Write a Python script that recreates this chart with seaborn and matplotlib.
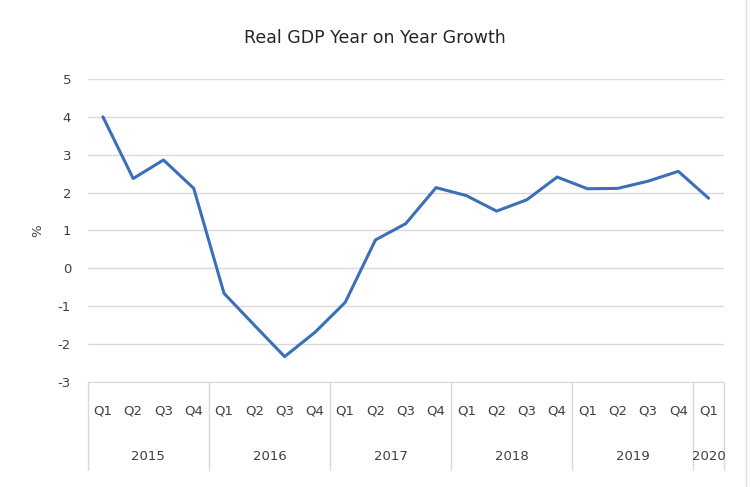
import pandas as pd
import matplotlib
matplotlib.use('Agg')
import matplotlib.pyplot as plt
import matplotlib.transforms as mtransforms
from matplotlib.lines import Line2D
import seaborn as sns

# Data
quarters = ['Q1', 'Q2', 'Q3', 'Q4'] * 5 + ['Q1']
years = ['2015', '2016', '2017', '2018', '2019', '2020']
year_counts = [4, 4, 4, 4, 4, 1]
growth = [4.0, 2.37, 2.86, 2.11,
          -0.66, -1.5, -2.33, -1.69,
          -0.9, 0.75, 1.18, 2.13,
          1.92, 1.51, 1.81, 2.41,
          2.1, 2.11, 2.3, 2.56,
          1.85]

df = pd.DataFrame({'pos': range(len(growth)), 'growth': growth})

sns.set_style('white')
plt.rcParams['font.family'] = ['DejaVu Sans']
plt.rcParams['axes.unicode_minus'] = False

fig = plt.figure(figsize=(7.5, 4.87), dpi=100)
ax = fig.add_axes([0.117, 0.2156, 0.848, 0.6224])

sns.lineplot(data=df, x='pos', y='growth', color='#3B70B8', linewidth=2.2, ax=ax)

ax.set_xlim(-0.5, len(growth) - 0.5)
ax.set_ylim(-3, 5)
ax.set_yticks(range(-3, 6))
ax.yaxis.grid(True, color='#D9D9D9', linewidth=1)
ax.set_axisbelow(True)
for s in ['top', 'right', 'left']:
    ax.spines[s].set_visible(False)
ax.spines['bottom'].set_color('#D9D9D9')

txt = '#404040'
ax.tick_params(axis='y', length=0, pad=12, labelsize=9.5, labelcolor=txt)
ax.set_xticks(df['pos'])
ax.set_xticklabels(quarters)
ax.tick_params(axis='x', length=0, pad=16, labelsize=9.5, labelcolor=txt)
ax.set_xlabel('')
ax.set_ylabel('%', fontsize=9.5, color=txt, labelpad=10)

# Year labels and separators for the second category level
trans = mtransforms.blended_transform_factory(ax.transData, ax.transAxes)
start = -0.5
bounds = [start]
for y, n in zip(years, year_counts):
    ax.text(start + n / 2, -0.245, y, transform=trans, ha='center', va='center',
            fontsize=9.5, color=txt)
    start += n
    bounds.append(start)
for b in bounds:
    ax.add_line(Line2D([b, b], [0, -0.29], transform=trans, color='#D9D9D9',
                       linewidth=1, clip_on=False))

fig.suptitle('Real GDP Year on Year Growth', y=0.94, fontsize=12.5, color='#262626')
fig.add_artist(Line2D([0.994, 0.994], [0, 1], color='#E0E0E0', linewidth=1))

plt.savefig('out.png', dpi=100)
